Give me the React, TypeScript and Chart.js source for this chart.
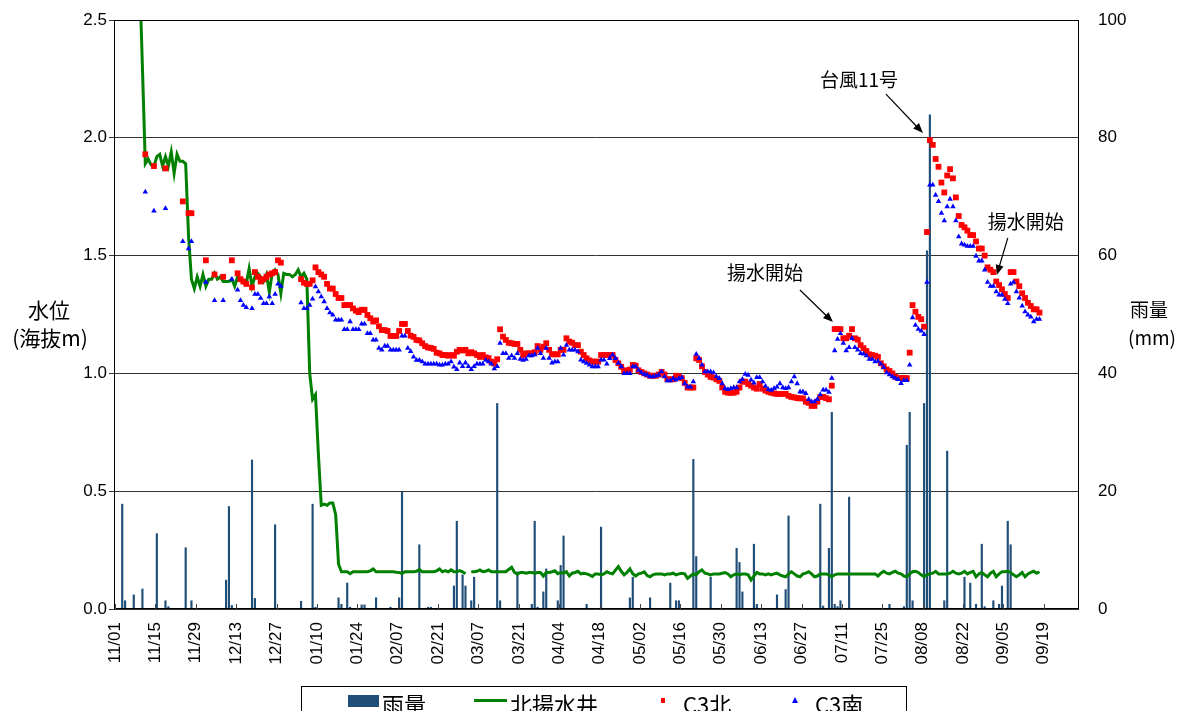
import React, { useEffect, useRef } from 'react';
import { Chart, registerables } from 'chart.js';

Chart.register(...registerables);

// ---------- data ----------
// x axis: days counted from 11/01 (day 0); ticks every 14 days
const xTickLabels = ['11/01', '11/15', '11/29', '12/13', '12/27', '01/10', '01/24', '02/07', '02/21', '03/07', '03/21', '04/04', '04/18', '05/02', '05/16', '05/30', '06/13', '06/27', '07/11', '07/25', '08/08', '08/22', '09/05', '09/19'];
const TICK_STEP_DAYS = 14;

// 雨量 (mm), right axis
const rainDays = [2, 3, 6, 9, 14, 17, 18, 24, 26, 38, 39, 40, 47, 48, 55, 64, 68, 69, 77, 78, 80, 81, 85, 86, 90, 95, 98, 99, 105, 108, 109, 117, 118, 120, 121, 123, 124, 132, 133, 139, 144, 145, 146, 148, 149, 153, 154, 155, 163, 168, 178, 179, 185, 192, 194, 195, 200, 201, 206, 215, 216, 217, 221, 222, 229, 232, 233, 244, 245, 247, 248, 249, 250, 251, 254, 268, 273, 274, 275, 276, 280, 281, 282, 287, 288, 294, 296, 298, 300, 301, 304, 306, 307, 309, 310];
const rainMm = [17.8, 1.4, 2.4, 3.4, 12.8, 1.4, 0.4, 10.4, 1.4, 4.9, 17.4, 0.6, 25.3, 1.8, 14.3, 1.3, 17.8, 0.3, 1.9, 0.8, 4.4, 0.3, 0.7, 0.7, 1.9, 0.3, 1.9, 19.9, 10.9, 0.3, 0.3, 3.9, 14.9, 5.8, 3.9, 1.4, 5.4, 34.9, 1.4, 6.3, 0.8, 14.9, 0.3, 2.9, 6.8, 1.4, 7.4, 12.4, 0.8, 13.9, 1.9, 5.4, 1.9, 4.4, 1.4, 1.4, 25.4, 8.9, 5.4, 10.3, 7.9, 2.9, 11.0, 0.8, 2.4, 3.3, 15.8, 17.8, 0.5, 10.3, 33.4, 0.8, 0.4, 1.4, 19.0, 0.8, 0.4, 27.8, 33.4, 1.4, 34.9, 60.8, 83.9, 1.4, 26.8, 5.4, 4.4, 0.8, 11.0, 0.4, 1.4, 0.8, 3.9, 14.9, 10.9];

// 北揚水井 (m), daily from wellStartDay
const wellStartDay = 8;
const wellLevel = [
  2.7, 2.3, 1.89, 1.91, 1.885, 1.88, 1.92, 1.93, 1.88, 1.92,
  1.88, 1.94, 1.85, 1.93, 1.9, 1.9, 1.89, 1.58, 1.4, 1.36,
  1.41, 1.37, 1.42, 1.37, 1.4, 1.4, 1.425, 1.4, 1.41, 1.39,
  1.39, 1.39, 1.4, 1.37, 1.41, 1.4, 1.39, 1.38, 1.445, 1.37,
  1.41, 1.425, 1.41, 1.39, 1.42, 1.345, 1.425, 1.44, 1.42, 1.34,
  1.425, 1.42, 1.42, 1.41, 1.42, 1.44, 1.41, 1.425, 1.4, 1.0,
  0.89, 0.91, 0.66, 0.44, 0.445, 0.44, 0.45, 0.45, 0.4, 0.19,
  0.158, 0.158, 0.158, 0.15, 0.158, 0.158, 0.158, 0.158, 0.158, 0.158,
  0.162, 0.17, 0.158, 0.158, 0.158, 0.158, 0.158, 0.158, 0.158, 0.156,
  0.155, 0.15, 0.158, 0.158, 0.158, 0.158, 0.16, 0.167, 0.158, 0.158,
  0.158, 0.158, 0.158, 0.162, 0.17, 0.158, 0.163, 0.158, 0.166, 0.158,
  0.158, 0.163, 0.158, 0.15, null, 0.158, 0.158, 0.16, 0.166, 0.158,
  0.16, 0.166, 0.158, 0.158, 0.158, 0.158, 0.158, 0.158, 0.168, 0.177,
  0.155, 0.148, 0.155, 0.155, 0.152, 0.155, 0.155, 0.152, 0.155, 0.155,
  0.14, 0.155, 0.155, 0.158, 0.162, 0.15, 0.155, 0.152, 0.158, 0.14,
  0.152, 0.155, 0.16, 0.149, 0.152, 0.149, 0.145, 0.138, 0.149, 0.149,
  0.145, 0.149, 0.158, 0.152, 0.149, 0.165, 0.18, 0.16, 0.145, 0.155,
  0.17, 0.15, 0.14, 0.149, 0.152, 0.158, 0.142, 0.137, 0.145, 0.149,
  0.149, 0.149, 0.145, 0.149, 0.149, 0.152, 0.145, 0.149, 0.152, 0.149,
  0.13, 0.14, 0.149, 0.145, 0.158, 0.166, 0.152, 0.149, 0.145, 0.149,
  0.149, 0.149, 0.152, 0.155, 0.149, 0.137, 0.145, 0.149, 0.145, 0.149,
  0.149, 0.145, 0.123, 0.14, 0.155, 0.149, 0.149, 0.145, 0.149, 0.145,
  0.149, 0.152, 0.145, 0.14, 0.137, 0.149, 0.158, 0.149, 0.14, 0.137,
  0.149, 0.152, 0.158, 0.149, 0.137, 0.14, 0.149, 0.149, 0.149, 0.145,
  0.137, 0.145, 0.149, 0.149, 0.149, 0.149, 0.149, 0.149, 0.149, 0.149,
  0.149, 0.149, 0.149, 0.149, 0.149, 0.149, 0.14, 0.152, 0.16, 0.152,
  0.149, 0.155, 0.16, 0.152, 0.149, 0.14, 0.137, 0.149, 0.158, 0.16,
  0.155, 0.145, 0.137, 0.145, 0.149, 0.152, 0.16, 0.149, 0.149, 0.149,
  0.149, 0.152, 0.16, 0.152, 0.149, 0.152, 0.16, 0.149, 0.155, 0.16,
  0.137, 0.149, 0.155, 0.145, 0.137, 0.152, 0.16, 0.137, 0.149, 0.158,
  0.158, 0.16, 0.155, 0.145, 0.137, 0.145, 0.155, 0.137, 0.149, 0.155,
  0.16, 0.152, 0.158,
];

// C3北 (m), daily from c3NorthStartDay
const c3NorthStartDay = 10;
const c3North = [
  1.93, null, null, 1.88, null, null, null, 1.87, null, null,
  null, null, null, 1.73, null, 1.68, 1.68, null, null, null,
  null, 1.48, null, null, 1.42, null, null, 1.41, null, null,
  1.48, null, 1.425, 1.4, 1.39, 1.38, null, 1.365, 1.43, 1.41,
  1.39, 1.4, 1.41, 1.42, 1.425, 1.43, 1.48, 1.47, null, null,
  null, null, null, null, 1.4, 1.385, 1.38, 1.38, 1.395, 1.45,
  1.43, 1.42, 1.41, 1.38, 1.36, 1.36, 1.337, 1.32, 1.32, 1.29,
  1.29, 1.29, 1.276, 1.266, 1.26, 1.27, 1.27, 1.248, 1.234, 1.22,
  1.225, 1.2, 1.184, 1.184, 1.18, 1.159, 1.159, 1.159, 1.18, 1.21,
  1.21, 1.18, 1.16, 1.155, 1.142, 1.14, 1.128, 1.116, 1.11, 1.108,
  1.104, 1.088, 1.085, 1.078, 1.078, 1.075, 1.078, 1.075, 1.092, 1.1,
  1.097, 1.1, 1.085, 1.09, 1.085, 1.078, 1.07, 1.078, 1.068, 1.065,
  1.05, 1.042, 1.06, 1.187, 1.156, 1.142, 1.13, 1.128, 1.125, 1.125,
  1.1, 1.078, 1.085, 1.085, 1.085, 1.09, 1.116, 1.1, 1.113, 1.128,
  1.1, 1.081, 1.081, 1.081, 1.1, 1.1, 1.149, 1.135, 1.13, 1.12,
  1.12, 1.092, 1.078, 1.064, 1.055, 1.05, 1.05, 1.05, 1.078, 1.078,
  1.078, 1.078, 1.078, 1.057, 1.043, 1.028, 1.011, 1.013, 1.016, 1.036,
  1.033, 1.013, 1.006, 1.0, 0.995, 0.99, 0.99, 0.99, 0.995, 1.006,
  0.995, 0.975, 0.975, 0.975, 0.99, 0.987, 0.98, 0.96, 0.94, 0.94,
  0.94, 1.064, 1.057, 1.03, 1.006, 0.995, 0.985, 0.982, 0.975, 0.968,
  0.94, 0.922, 0.918, 0.918, 0.918, 0.922, 0.94, 0.965, 0.965, 0.955,
  0.948, 0.94, 0.935, 0.955, 0.935, 0.927, 0.922, 0.918, 0.915, 0.913,
  0.913, 0.913, 0.913, 0.905, 0.9, 0.898, 0.895, 0.894, 0.894, 0.88,
  0.875, 0.862, 0.862, 0.88, 0.9, 0.9, 0.895, 0.89, 0.948, 1.188,
  1.188, 1.188, 1.149, 1.149, 1.16, 1.188, 1.149, 1.143, 1.12, 1.107,
  1.095, 1.081, 1.078, 1.075, 1.07, 1.043, 1.03, 1.017, 1.01, 1.0,
  0.986, 0.98, 0.98, 0.98, 0.98, 1.088, 1.29, 1.262, 1.24, 1.23,
  1.198, 1.6, 1.99, 1.97, 1.91, 1.877, 1.81, 1.768, 1.84, 1.867,
  1.828, 1.747, 1.668, 1.63, 1.62, 1.606, 1.587, 1.587, 1.56, 1.53,
  1.53, 1.5, 1.45, 1.44, 1.43, 1.39, 1.375, 1.357, 1.337, 1.32,
  1.43, 1.43, 1.39, 1.37, 1.34, 1.32, 1.3, 1.286, 1.272, 1.272,
  1.258,
];

// C3南 (m), daily from c3SouthStartDay
const c3SouthStartDay = 10;
const c3South = [
  1.77, null, null, 1.69, null, null, null, 1.7, null, null,
  null, null, null, 1.56, null, 1.53, 1.56, null, null, null,
  null, 1.387, null, null, 1.31, null, null, 1.31, null, null,
  1.4, null, 1.354, 1.31, 1.29, 1.28, null, 1.276, 1.336, 1.336,
  1.319, 1.297, 1.297, 1.326, 1.297, 1.336, 1.38, 1.37, null, null,
  null, null, null, null, 1.3, 1.276, 1.276, 1.29, 1.316, 1.368,
  1.347, 1.326, 1.305, 1.276, 1.258, 1.248, 1.227, 1.227, 1.227, 1.187,
  1.187, 1.22, 1.187, 1.187, 1.187, 1.21, 1.21, 1.17, 1.17, 1.142,
  1.142, 1.107, 1.1, 1.116, 1.116, 1.1, 1.1, 1.1, 1.1, 1.159,
  1.159, 1.107, 1.093, 1.07, 1.056, 1.056, 1.05, 1.04, 1.04, 1.04,
  1.04, 1.04, 1.036, 1.036, 1.04, 1.04, 1.05, 1.028, 1.017, 1.045,
  1.03, 1.045, 1.03, 1.017, 1.03, 1.04, 1.04, 1.04, 1.056, 1.05,
  1.04, 1.02, 1.03, 1.128, 1.085, 1.085, 1.065, 1.075, 1.065, 1.085,
  1.06, 1.056, 1.06, 1.075, 1.075, 1.08, 1.107, 1.085, 1.065, 1.107,
  1.065, 1.045, 1.05, 1.05, 1.107, 1.078, 1.12, 1.1, 1.1, 1.1,
  1.092, 1.057, 1.05, 1.043, 1.036, 1.029, 1.029, 1.029, 1.057, 1.057,
  1.04, 1.064, 1.078, 1.064, 1.043, 1.029, 1.0, 1.0, 1.0, 1.029,
  1.029, 1.014, 1.003, 0.997, 0.993, 0.986, 0.986, 0.989, 0.993, 1.007,
  0.986, 0.969, 0.969, 0.979, 0.972, 0.979, 0.983, 0.957, 0.943, 0.943,
  0.965, 1.082, 1.064, 1.036, 1.007, 1.007, 1.007, 1.003, 0.986, 0.979,
  0.957, 0.936, 0.932, 0.936, 0.94, 0.94, 0.965, 0.975, 0.997, 0.993,
  0.972, 0.96, 0.983, 0.983, 0.965, 0.946, 0.932, 0.929, 0.936, 0.943,
  0.957, 0.94, 0.936, 0.94, 0.965, 0.986, 0.957, 0.922, 0.922, 0.915,
  0.89, 0.88, 0.88, 0.89, 0.91, 0.93, 0.93, 0.92, 0.98, 1.097,
  1.145, 1.17, 1.128, 1.097, 1.11, 1.149, 1.11, 1.1, 1.085, 1.083,
  1.075, 1.06, 1.06, 1.05, 1.052, 1.04, 1.025, 1.003, 0.995, 0.986,
  0.98, 0.975, 0.958, 0.97, 0.97, 1.036, 1.237, 1.205, 1.188, 1.18,
  1.166, 1.387, 1.8, 1.8, 1.757, 1.73, 1.68, 1.648, 1.708, 1.74,
  1.708, 1.648, 1.58, 1.55, 1.545, 1.54, 1.54, 1.54, 1.498, 1.478,
  1.478, 1.439, 1.387, 1.37, 1.37, 1.347, 1.333, 1.333, 1.315, 1.297,
  1.38, 1.387, 1.347, 1.32, 1.286, 1.262, 1.248, 1.24, 1.22, 1.23,
  1.23,
];

// annotation texts; tip given in axis units (day, water level)
const annotations = [
  { text: '台風11号', x: 280.1, y: 2.02, textDx: -64, textDy: -53, fromDx: -37, fromDy: -39 },
  { text: '揚水開始', x: 305.7, y: 1.418, textDx: 29, textDy: -53, fromDx: 11, fromDy: -37 },
  { text: '揚水開始', x: 248.9, y: 1.218, textDx: -68, textDy: -49, fromDx: -33, fromDy: -32 },
];

// ---------- styling ----------
const RAIN_COLOR = '#1F4E79';
const WELL_COLOR = '#008000';
const NORTH_COLOR = '#FF0000';
const SOUTH_COLOR = '#0000FF';
const CJK = '"Noto Sans CJK JP", "Noto Sans", sans-serif';
const LATIN = '"Liberation Sans", Arial, sans-serif';

const dailyPoints = (start: number, values: (number | null)[]) =>
  values.map((v, i) => ({ x: start + i + 0.5, y: v }));

function drawArrow(ctx: CanvasRenderingContext2D, x1: number, y1: number, x2: number, y2: number) {
  const ang = Math.atan2(y2 - y1, x2 - x1);
  const len = 10;
  const w = 4;
  ctx.beginPath();
  ctx.moveTo(x1, y1);
  ctx.lineTo(x2 - (len - 2) * Math.cos(ang), y2 - (len - 2) * Math.sin(ang));
  ctx.stroke();
  ctx.beginPath();
  ctx.moveTo(x2, y2);
  ctx.lineTo(x2 - len * Math.cos(ang) + w * Math.sin(ang), y2 - len * Math.sin(ang) - w * Math.cos(ang));
  ctx.lineTo(x2 - len * Math.cos(ang) - w * Math.sin(ang), y2 - len * Math.sin(ang) + w * Math.cos(ang));
  ctx.closePath();
  ctx.fill();
}

const decorPlugin = {
  id: 'decor',
  afterDraw(chart: any) {
    const ctx: CanvasRenderingContext2D = chart.ctx;
    const { left, right, top, bottom } = chart.chartArea;
    const xs = chart.scales.x;
    const ys = chart.scales.y;
    ctx.save();

    // plot frame
    ctx.strokeStyle = '#000';
    ctx.lineWidth = 1;
    ctx.strokeRect(left + 0.5, top + 0.5, right - left - 1, bottom - top - 1);

    // inner tick marks on the x axis
    ctx.strokeStyle = '#444';
    xTickLabels.forEach((_, i) => {
      const px = Math.round(xs.getPixelForValue(i * TICK_STEP_DAYS)) + 0.5;
      ctx.beginPath();
      ctx.moveTo(px, bottom);
      ctx.lineTo(px, bottom - 5);
      ctx.stroke();
    });

    // axis titles
    ctx.fillStyle = '#000';
    ctx.textAlign = 'center';
    ctx.textBaseline = 'middle';
    ctx.font = `21px ${CJK}`;
    ctx.fillText('水位', 49, 310);
    ctx.fillText('(海抜m)', 50, 338);
    ctx.font = `19px ${CJK}`;
    ctx.fillText('雨量', 1149, 310);
    ctx.fillText('(mm)', 1152, 338);

    // annotations
    ctx.font = `19px ${CJK}`;
    ctx.strokeStyle = '#000';
    ctx.fillStyle = '#000';
    ctx.lineWidth = 1.2;
    annotations.forEach((a) => {
      const tx = xs.getPixelForValue(a.x);
      const ty = ys.getPixelForValue(a.y);
      ctx.fillText(a.text, tx + a.textDx, ty + a.textDy);
      drawArrow(ctx, tx + a.fromDx, ty + a.fromDy, tx, ty);
    });

    // legend (box runs off the bottom edge as in the original)
    ctx.lineWidth = 1;
    ctx.strokeStyle = '#000';
    ctx.strokeRect(301.5, 686.5, 605, 40);
    ctx.textAlign = 'left';
    ctx.textBaseline = 'middle';
    ctx.font = `22px ${CJK}`;
    ctx.fillStyle = RAIN_COLOR;
    ctx.fillRect(348, 695, 31, 12);
    ctx.fillStyle = '#000';
    ctx.fillText('雨量', 382, 705);
    ctx.strokeStyle = WELL_COLOR;
    ctx.lineWidth = 3;
    ctx.beginPath();
    ctx.moveTo(474, 700.5);
    ctx.lineTo(507, 700.5);
    ctx.stroke();
    ctx.fillStyle = '#000';
    ctx.fillText('北揚水井', 510, 705);
    ctx.fillStyle = NORTH_COLOR;
    ctx.fillRect(661, 698, 4, 5);
    ctx.fillStyle = '#000';
    ctx.fillText('C3北', 683, 705);
    ctx.fillStyle = SOUTH_COLOR;
    ctx.beginPath();
    ctx.moveTo(795, 697);
    ctx.lineTo(798, 703);
    ctx.lineTo(792, 703);
    ctx.closePath();
    ctx.fill();
    ctx.fillStyle = '#000';
    ctx.fillText('C3南', 815, 705);

    ctx.restore();
  },
};

const noScalePadding = (s: any) => {
  s.paddingTop = 0;
  s.paddingBottom = 0;
  s.paddingLeft = 0;
  s.paddingRight = 0;
};

export default function App() {
  const ref = useRef<HTMLCanvasElement>(null);

  useEffect(() => {
    const canvas = ref.current;
    if (!canvas) return;
    const rainPoints = rainDays.map((d, i) => ({ x: d + 0.5, y: rainMm[i] }));
    const chart = new Chart(canvas, {
      type: 'line',
      data: {
        datasets: [
          {
            type: 'line',
            label: 'C3南',
            data: dailyPoints(c3SouthStartDay, c3South),
            showLine: false,
            pointStyle: 'triangle',
            pointRadius: 3.2,
            pointBackgroundColor: SOUTH_COLOR,
            pointBorderColor: SOUTH_COLOR,
            pointBorderWidth: 0,
            borderColor: SOUTH_COLOR,
            yAxisID: 'y',
            order: 1,
          },
          {
            type: 'line',
            label: 'C3北',
            data: dailyPoints(c3NorthStartDay, c3North),
            showLine: false,
            pointStyle: 'rect',
            pointRadius: 4.1,
            pointBackgroundColor: NORTH_COLOR,
            pointBorderColor: NORTH_COLOR,
            pointBorderWidth: 0,
            borderColor: NORTH_COLOR,
            yAxisID: 'y',
            order: 2,
          },
          {
            type: 'line',
            label: '北揚水井',
            data: dailyPoints(wellStartDay, wellLevel),
            borderColor: WELL_COLOR,
            borderWidth: 3,
            pointRadius: 0,
            tension: 0,
            spanGaps: false,
            yAxisID: 'y',
            order: 3,
          },
          {
            type: 'bar',
            label: '雨量',
            data: rainPoints,
            backgroundColor: RAIN_COLOR,
            barThickness: 1.5,
            yAxisID: 'y1',
            order: 4,
          },
        ] as any,
      },
      options: {
        responsive: false,
        animation: false,
        devicePixelRatio: 1,
        events: [],
        layout: { padding: { top: 20, left: 0, right: 0, bottom: 0 } },
        plugins: {
          legend: { display: false },
          tooltip: { enabled: false },
          title: { display: false },
        },
        scales: {
          x: {
            type: 'linear',
            position: 'bottom',
            offset: false,
            min: -0.35,
            max: 334.2,
            afterBuildTicks: (s: any) => {
              s.ticks = xTickLabels.map((_, i) => ({ value: i * TICK_STEP_DAYS }));
            },
            afterFit: (s: any) => {
              s.height = 102;
              noScalePadding(s);
            },
            grid: { display: false, drawTicks: false, offset: false },
            border: { display: false },
            ticks: {
              autoSkip: false,
              minRotation: 90,
              maxRotation: 90,
              padding: 13,
              color: '#000',
              font: { family: LATIN, size: 17 },
              callback: (v: any) => xTickLabels[Math.round(Number(v) / TICK_STEP_DAYS)] ?? '',
            },
          },
          y: {
            position: 'left',
            min: 0,
            max: 2.5,
            afterFit: (s: any) => {
              s.width = 114;
              noScalePadding(s);
            },
            grid: { color: '#333', lineWidth: 1, drawTicks: true, tickLength: 5 },
            border: { display: false },
            ticks: {
              stepSize: 0.5,
              padding: 2,
              color: '#000',
              font: { family: LATIN, size: 17 },
              callback: (v: any) => Number(v).toFixed(1),
            },
          },
          y1: {
            position: 'right',
            min: 0,
            max: 100,
            afterFit: (s: any) => {
              s.width = 101;
              noScalePadding(s);
            },
            grid: { drawOnChartArea: false, drawTicks: false },
            border: { display: false },
            ticks: {
              stepSize: 20,
              padding: 19,
              color: '#000',
              font: { family: LATIN, size: 17 },
            },
          },
        },
      } as any,
      plugins: [decorPlugin],
    });
    return () => chart.destroy();
  }, []);

  return (
    <div style={{ position: 'absolute', left: 0, top: 0, width: 1180, height: 711, background: '#fff', overflow: 'hidden' }}>
      <canvas ref={ref} width={1180} height={711} style={{ display: 'block', width: 1180, height: 711 }} />
    </div>
  );
}
